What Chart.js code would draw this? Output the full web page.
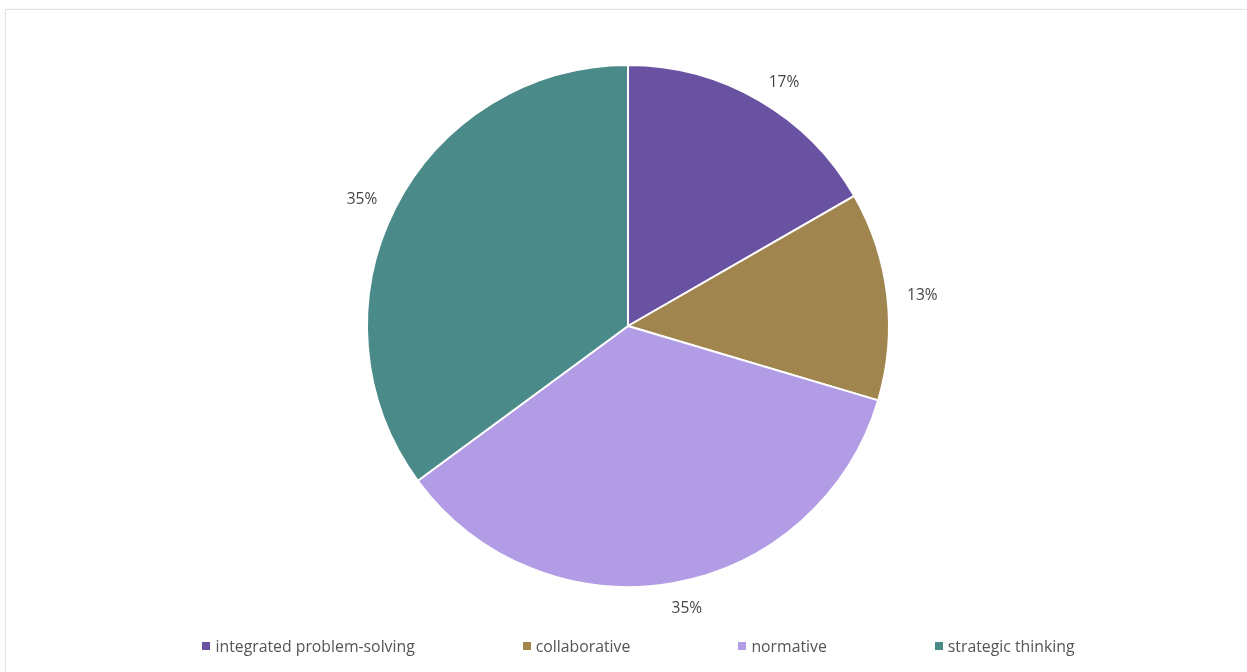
<!DOCTYPE html>
<html>
<head>
<meta charset="utf-8">
<script src="https://cdn.jsdelivr.net/npm/chart.js@4.4.1/dist/chart.umd.min.js"></script>
<style>
  html, body { margin: 0; padding: 0; background: #fff; overflow: hidden; width: 1247px; height: 672px; }
  #card { position: absolute; left: 5px; top: 9px; width: 1300px; height: 700px; border: 1px solid #e3e3e3; box-shadow: 0 0 2px rgba(0,0,0,0.05); box-sizing: border-box; }
  #wrap { position: absolute; left: 0; top: 0; width: 1247px; height: 672px; }
  #legend { position: absolute; left: 15px; top: 635px; width: 1247px; height: 22px; display: flex; justify-content: center; gap: 108px; font: 15.8px "Open Sans", sans-serif; color: #555; line-height: 22px; }
  .item { display: flex; align-items: center; white-space: nowrap; }
  .mark { width: 8px; height: 8px; margin-right: 5px; display: inline-block; }
</style>
</head>
<body>
<div id="card"></div>
<div id="wrap"><canvas id="c"></canvas></div>
<div id="legend"></div>
<script>
const categories = ['integrated problem-solving', 'collaborative', 'normative', 'strategic thinking'];
const shares = [16.7, 12.9, 35.3, 35.1];
const colors = ['#6a52a3', '#a0854f', '#b39ce6', '#4a8a88'];

const total = shares.reduce((a, b) => a + b, 0);

const outsideLabels = {
  id: 'outsideLabels',
  afterDatasetsDraw(chart) {
    const ctx = chart.ctx;
    const meta = chart.getDatasetMeta(0);
    ctx.save();
    ctx.font = '15.5px "Open Sans", sans-serif';
    ctx.fillStyle = '#454545';
    ctx.textAlign = 'center';
    ctx.textBaseline = 'middle';
    meta.data.forEach((arc, i) => {
      const p = arc.getProps(['x', 'y', 'startAngle', 'endAngle', 'outerRadius'], true);
      const mid = (p.startAngle + p.endAngle) / 2;
      const R = p.outerRadius + 20;
      const txt = Math.round(shares[i] / total * 100) + '%';
      const w = ctx.measureText(txt).width;
      const c = Math.cos(mid), s = Math.sin(mid);
      const clamp = v => Math.max(-1, Math.min(1, v));
      const cx = p.x + R * c + (w / 2) * clamp(c * 4);
      const cy = p.y + R * s + 3 + 3 * clamp(s * 2);
      ctx.fillText(txt, cx, cy);
    });
    ctx.restore();
  }
};

const chart = new Chart(document.getElementById('c'), {
  type: 'pie',
  data: {
    labels: categories,
    datasets: [{
      data: shares,
      backgroundColor: colors,
      borderColor: '#ffffff',
      borderWidth: 2
    }]
  },
  options: {
    responsive: true,
    maintainAspectRatio: false,
    animation: false,
    layout: { padding: { left: 9, right: 0, top: 64, bottom: 84 } },
    plugins: {
      legend: { display: false },
      tooltip: { enabled: false }
    }
  },
  plugins: [outsideLabels]
});

const legendEl = document.getElementById('legend');
categories.forEach((name, i) => {
  const item = document.createElement('div');
  item.className = 'item';
  const m = document.createElement('span');
  m.className = 'mark';
  m.style.background = colors[i];
  const t = document.createElement('span');
  t.textContent = name;
  item.appendChild(m);
  item.appendChild(t);
  legendEl.appendChild(item);
});
</script>
</body>
</html>
